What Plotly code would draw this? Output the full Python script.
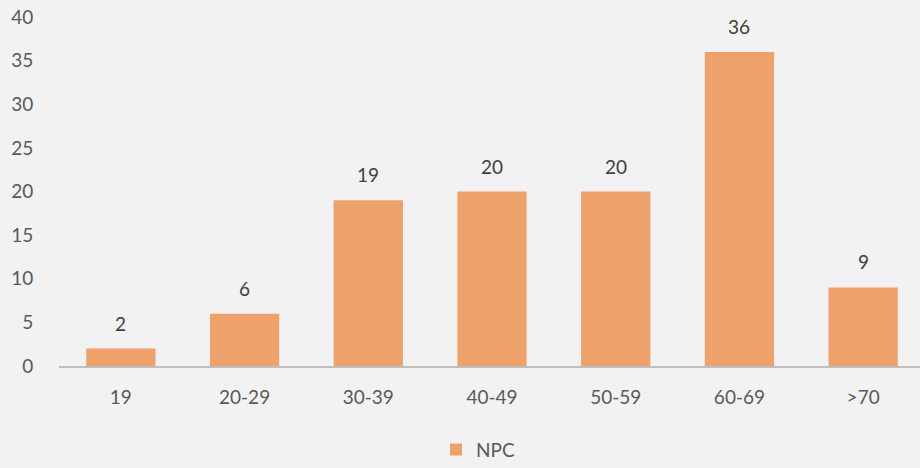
import plotly.graph_objects as go

categories = ["19", "20-29", "30-39", "40-49", "50-59", "60-69", ">70"]
values = [2, 6, 19, 20, 20, 36, 9]
series_name = "NPC"

bar_color = "#EEA26B"
text_color = "#595959"
bg = "#F2F2F2"
font_family = "Lato, 'Open Sans', sans-serif"

fig = go.Figure()
fig.add_trace(go.Bar(
    x=categories, y=values, name=series_name,
    marker=dict(color=bar_color, line=dict(width=0)),
    showlegend=True,
))

for i, v in enumerate(values):
    fig.add_annotation(x=i, y=v, xref="x", yref="y", text=str(v), showarrow=False,
                       yanchor="bottom", yshift=12,
                       font=dict(family=font_family, size=19, color="#404040"))

fig_w = 925
fig.update_layout(
    width=fig_w, height=468,
    margin=dict(l=59, r=0, t=17, b=102, autoexpand=False),
    paper_bgcolor=bg, plot_bgcolor=bg,
    font=dict(family=font_family, size=19, color=text_color),
    bargap=0.44,
    showlegend=True,
    legend=dict(orientation="h", x=0.5 - 14 / (fig_w - 59), xanchor="center", y=-0.24, yanchor="middle",
                font=dict(size=19, color=text_color), itemwidth=30),
    xaxis=dict(type="category", range=[-0.5, len(categories) - 0.5],
               showgrid=False, showline=True, linecolor="#BFBFBF", linewidth=2,
               ticks="outside", ticklen=13, tickcolor="rgba(0,0,0,0)", zeroline=False,
               tickangle=0, automargin=False),
    yaxis=dict(range=[0, 40], dtick=5, showgrid=False, showline=False, zeroline=False,
               ticks="outside", ticklen=21, tickcolor="rgba(0,0,0,0)", automargin=False),
)

fig.write_html(
    "out.html",
    config={"displayModeBar": False},
    post_script=("document.body.style.margin='0';"
                 "document.body.style.background='#F2F2F2';"
                 "document.body.style.overflow='hidden';"
                 "document.documentElement.style.overflow='hidden';"),
)
